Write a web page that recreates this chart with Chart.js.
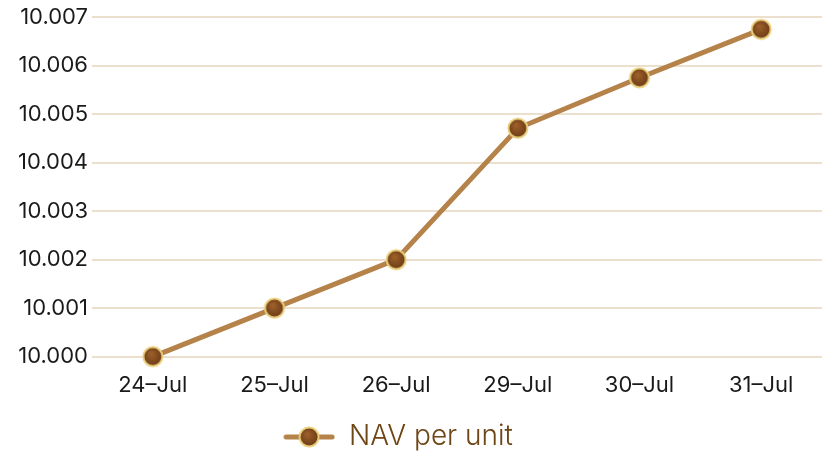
<!DOCTYPE html>
<html>
<head>
<meta charset="utf-8">
<script src="https://cdn.jsdelivr.net/npm/chart.js@4"></script>
<style>
  html, body { margin: 0; padding: 0; background: #fff; overflow: hidden; }
  #wrap { width: 823px; height: 455px; position: relative; }
  canvas { display: block; }
</style>
</head>
<body>
<div id="wrap"><canvas id="chart"></canvas></div>
<script>
var dates = ['24–Jul', '25–Jul', '26–Jul', '29–Jul', '30–Jul', '31–Jul'];
var navValues = [10.000, 10.001, 10.002, 10.00471, 10.00575, 10.00675];
var seriesName = 'NAV per unit';

var lineColor = '#b5834a';

// marker: brown ball with a gold rim
function makeMarker(w) {
  var c = document.createElement('canvas');
  var h = 24;
  c.width = w; c.height = h;
  var ctx = c.getContext('2d');
  var cx = w / 2, cy = h / 2;
  if (w > h) {
    ctx.strokeStyle = lineColor;
    ctx.lineWidth = 5;
    ctx.lineCap = 'round';
    ctx.beginPath();
    ctx.moveTo(3, cy); ctx.lineTo(w - 3, cy);
    ctx.stroke();
  }
  var g = ctx.createRadialGradient(cx - 2, cy - 3, 1, cx, cy, 10);
  g.addColorStop(0, '#9c5f2a');
  g.addColorStop(1, '#6b3a16');
  ctx.beginPath();
  ctx.arc(cx, cy, 9.5, 0, Math.PI * 2);
  ctx.fillStyle = g;
  ctx.fill();
  ctx.lineWidth = 2;
  ctx.strokeStyle = '#ead07c';
  ctx.stroke();
  return c;
}

var pointImg = makeMarker(24);
var legendImg = makeMarker(52);

// legend sits a bit left of centre in the original
var legendShift = {
  id: 'legendShift',
  afterLayout: function (chart) {
    chart.legend.left = 0;
    chart.legend.right = 796;
  }
};

new Chart(document.getElementById('chart'), {
  type: 'line',
  data: {
    labels: dates,
    datasets: [{
      label: seriesName,
      data: navValues,
      borderColor: lineColor,
      borderWidth: 5,
      pointStyle: pointImg,
      pointRadius: 11,
      tension: 0,
      clip: false
    }]
  },
  plugins: [legendShift],
  options: {
    responsive: true,
    maintainAspectRatio: false,
    animation: false,
    layout: { autoPadding: false, padding: { top: 15, right: 1, left: 0, bottom: -6 } },
    plugins: {
      tooltip: { enabled: false },
      legend: {
        position: 'bottom',
        labels: {
          usePointStyle: true,
          pointStyleWidth: 52,
          boxHeight: 24,
          font: { family: 'Inter', size: 28, weight: 300, lineHeight: 1 },
          color: '#6e4515',
          padding: 16,
          generateLabels: function (chart) {
            return [{
              text: seriesName,
              pointStyle: legendImg,
              fontColor: '#6e4515',
              datasetIndex: 0
            }];
          }
        }
      }
    },
    scales: {
      x: {
        offset: true,
        grid: { display: false },
        border: { display: false },
        ticks: { color: '#1a1a1a', font: { family: 'Inter', size: 22 }, padding: 8 }
      },
      y: {
        min: 10.000,
        max: 10.007,
        grid: { color: '#ecdfcb', lineWidth: 2, drawTicks: false },
        border: { display: false },
        ticks: {
          stepSize: 0.001,
          padding: 4,
          color: '#1a1a1a',
          font: { family: 'Inter', size: 22 },
          callback: function (v) { return v.toFixed(3); }
        },
        afterFit: function (scale) { scale.width = 92; }
      }
    }
  }
});
</script>
</body>
</html>
